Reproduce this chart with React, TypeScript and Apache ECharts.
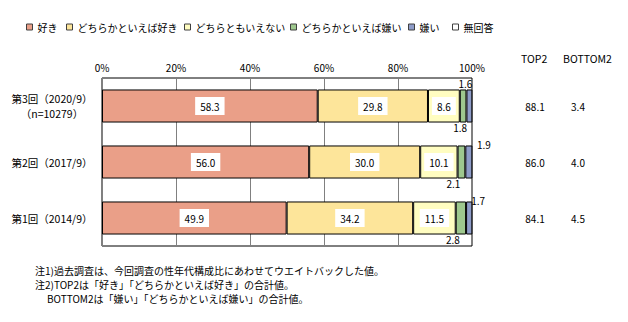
import React, { useEffect, useRef } from "react";
import * as echarts from "echarts";

const categories = ["第3回（2020/9）\n（n=10279）", "第2回（2017/9）", "第1回（2014/9）"];
const seriesNames = ["好き", "どちらかといえば好き", "どちらともいえない", "どちらかといえば嫌い", "嫌い", "無回答"];
const like = [58.3, 56.0, 49.9];
const ratherLike = [29.8, 30.0, 34.2];
const neither = [8.6, 10.1, 11.5];
const ratherDislike = [1.8, 2.1, 2.8];
const dislike = [1.6, 1.9, 1.7];
const noAnswer = [0, 0, 0];
const top2 = [88.1, 86.0, 84.1];
const bottom2 = [3.4, 4.0, 4.5];
const columnHeaders = ["TOP2", "BOTTOM2"];
const notes = [
  "注1)過去調査は、今回調査の性年代構成比にあわせてウエイトバックした値。",
  "注2)TOP2は「好き」「どちらかといえば好き」の合計値。",
  "BOTTOM2は「嫌い」「どちらかといえば嫌い」の合計値。",
];

const FONT = "'Noto Sans CJK JP', 'Noto Sans', sans-serif";
const colors = ["#EA9F88", "#FDE59A", "#FFFDC1", "#9EC88E", "#8E9CC8", "#FFFFFF"];
const legendLeft = [26, 66, 184, 290, 408, 452];
const greenOffsets = [[-3, 0], [-8, 0], [-8, 0]];
const blueOffsets = [[-4, 0], [15, 5], [9, 5]];

export default function App() {
  const ref = useRef<HTMLDivElement>(null);
  useEffect(() => {
    document.body.style.margin = "0";
    const chart = echarts.init(ref.current!, null, { renderer: "svg" });
    const values = [like, ratherLike, neither, ratherDislike, dislike, noAnswer];
    const series: any[] = values.map((arr, si) => {
      let data: any[] = arr;
      let label: any = { show: false };
      if (si <= 2) {
        label = {
          show: true,
          position: "inside",
          formatter: (p: any) => Number(p.value).toFixed(1),
          backgroundColor: "#fff",
          padding: [4, 5],
          color: "#000",
          fontSize: 10,
          fontFamily: FONT,
        };
      } else if (si === 3) {
        data = arr.map((v, i) => ({
          value: v,
          label: { show: true, position: "bottom", distance: 0, offset: greenOffsets[i] },
        }));
        label = { formatter: (p: any) => Number(p.value).toFixed(1), color: "#000", fontSize: 10, fontFamily: FONT };
      } else if (si === 4) {
        data = arr.map((v, i) => ({
          value: v,
          label: { show: true, position: "top", distance: 1, offset: blueOffsets[i] },
        }));
        label = { formatter: (p: any) => Number(p.value).toFixed(1), color: "#000", fontSize: 10, fontFamily: FONT };
      }
      return {
        name: seriesNames[si],
        type: "bar",
        stack: "total",
        data,
        barCategoryGap: "41%",
        itemStyle: { color: colors[si], borderColor: "#000", borderWidth: 1 },
        label,
        emphasis: { disabled: true },
        yAxisIndex: 0,
      };
    });

    const option: any = {
      animation: false,
      textStyle: { fontFamily: FONT },
      legend: seriesNames.map((n, i) => ({
        data: [n],
        left: legendLeft[i],
        top: 22,
        padding: 0,
        icon: "rect",
        itemWidth: 6,
        itemHeight: 6,
        itemGap: 0,
        selectedMode: false,
        itemStyle: { borderColor: "#404040", borderWidth: 1 },
        textStyle: { fontSize: 10, color: "#000", fontFamily: FONT },
      })),
      grid: {
        left: 102,
        right: 156,
        top: 78,
        bottom: 76,
        show: true,
        borderColor: "#000",
        borderWidth: 1,
        backgroundColor: "transparent",
      },
      xAxis: {
        type: "value",
        position: "top",
        min: 0,
        max: 100,
        interval: 20,
        axisLine: { show: false },
        axisTick: { show: false },
        axisLabel: { formatter: "{value}%", fontSize: 10, color: "#000", margin: 6, fontFamily: FONT },
        splitLine: { show: true, lineStyle: { color: "#808080", width: 1 } },
      },
      yAxis: [
        {
          type: "category",
          data: categories,
          inverse: true,
          axisLine: { show: false },
          axisTick: { show: false },
          axisLabel: { align: "center", margin: 50, fontSize: 10.5, color: "#000", lineHeight: 15, fontFamily: FONT },
        },
        {
          type: "category",
          data: categories,
          inverse: true,
          position: "right",
          axisLine: { show: false },
          axisTick: { show: false },
          axisLabel: {
            align: "center",
            margin: 63,
            fontSize: 10,
            color: "#000",
            fontFamily: FONT,
            formatter: (_v: any, i: number) => top2[i].toFixed(1),
          },
        },
        {
          type: "category",
          data: categories,
          inverse: true,
          position: "right",
          axisLine: { show: false },
          axisTick: { show: false },
          axisLabel: {
            align: "center",
            margin: 106,
            fontSize: 10,
            color: "#000",
            fontFamily: FONT,
            formatter: (_v: any, i: number) => bottom2[i].toFixed(1),
          },
        },
      ],
      graphic: [
        { type: "text", left: 521, top: 53, style: { text: columnHeaders[0], fontSize: 10.5, fill: "#000", fontFamily: FONT } },
        { type: "text", left: 563, top: 53, style: { text: columnHeaders[1], fontSize: 10.5, fill: "#000", fontFamily: FONT } },
        { type: "text", left: 35, top: 265, style: { text: notes[0], fontSize: 10, fill: "#000", fontFamily: FONT } },
        { type: "text", left: 35, top: 279, style: { text: notes[1], fontSize: 10, fill: "#000", fontFamily: FONT } },
        { type: "text", left: 47, top: 293, style: { text: notes[2], fontSize: 10, fill: "#000", fontFamily: FONT } },
      ],
      series,
    };
    chart.setOption(option);
    return () => chart.dispose();
  }, []);
  return <div ref={ref} style={{ width: 628, height: 322 }} />;
}
